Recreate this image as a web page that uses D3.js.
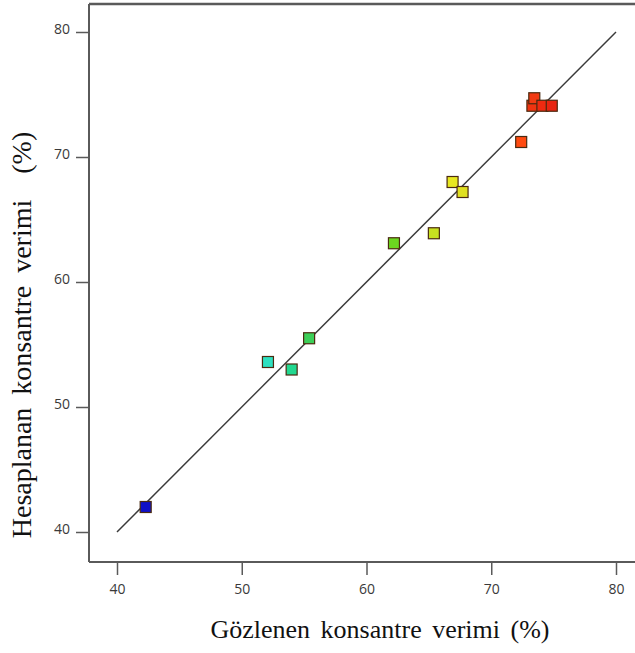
<!DOCTYPE html>
<html>
<head>
<meta charset="utf-8">
<script src="https://cdn.jsdelivr.net/npm/d3@7"></script>
<style>
  html, body { margin: 0; padding: 0; background: #fff; }
  svg { display: block; }
</style>
</head>
<body>
<svg id="chart" width="635" height="653"></svg>
<script>
// Observed vs. predicted concentrate yield (%)
const observed  = [42.3, 52.1, 54.0, 55.4, 62.2, 65.4, 66.9, 67.7, 72.4, 73.3, 73.45, 74.1, 74.85];
const predicted = [42.0, 53.6, 53.0, 55.5, 63.1, 63.9, 68.0, 67.2, 71.2, 74.1, 74.7, 74.1, 74.1];
const pointColors = ["#1010c8", "#2ee0c0", "#22d890", "#3ccf58", "#6cd820", "#c8e020",
                     "#e8e820", "#e0e020", "#ff4a10", "#f03410", "#f23a12", "#ee2a10", "#e82410"];
const xTicks = [40, 50, 60, 70, 80];
const yTicks = [40, 50, 60, 70, 80];
const xTitle = "Gözlenen konsantre verimi (%)";
const yTitle = "Hesaplanan konsantre verimi  (%)";

const svg = d3.select("#chart");

const x = d3.scaleLinear().domain([40, 80]).range([117, 616]);
const y = d3.scaleLinear().domain([40, 80]).range([532, 32]);

const axisLeftX = 89, axisBottomY = 562, topY = 4;
const axisColor = "#5a5a5a";

// frame: top border, left axis, bottom axis
svg.append("line").attr("x1", axisLeftX).attr("x2", 635).attr("y1", topY).attr("y2", topY)
  .attr("stroke", axisColor).attr("stroke-width", 2.5);

const xAxis = d3.axisBottom(x).tickValues(xTicks).tickSize(13).tickPadding(9).tickFormat(d3.format("d"));
const gx = svg.append("g").attr("transform", `translate(0,${axisBottomY})`).call(xAxis);
gx.select(".domain").remove();
gx.append("line").attr("x1", axisLeftX).attr("x2", 635).attr("stroke", axisColor).attr("stroke-width", 2);

const yAxis = d3.axisLeft(y).tickValues(yTicks).tickSize(13).tickPadding(6).tickFormat(d3.format("d"));
const gy = svg.append("g").attr("transform", `translate(${axisLeftX},0)`).call(yAxis);
gy.select(".domain").remove();
gy.append("line").attr("y1", topY).attr("y2", axisBottomY).attr("stroke", axisColor).attr("stroke-width", 2);

[gx, gy].forEach(g => {
  g.selectAll(".tick line").attr("stroke", axisColor).attr("stroke-width", 1.5);
  g.selectAll(".tick text").attr("fill", "#3a3a3a").attr("font-family", "'Open Sans', sans-serif")
    .attr("font-size", 14);
});
gy.selectAll(".tick text").attr("dy", "0.1em");

// reference line y = x
svg.append("line")
  .attr("x1", x(40)).attr("y1", y(40)).attr("x2", x(80)).attr("y2", y(80))
  .attr("stroke", "#3a3a3a").attr("stroke-width", 1.5);

// points
const sz = 11;
svg.append("g").selectAll("rect")
  .data(observed.map((o, i) => ({ o, p: predicted[i], c: pointColors[i] })))
  .join("rect")
  .attr("x", d => x(d.o) - sz / 2)
  .attr("y", d => y(d.p) - sz / 2)
  .attr("width", sz).attr("height", sz)
  .attr("fill", d => d.c)
  .attr("stroke", "#4a2a10").attr("stroke-width", 1.2);

// axis titles
svg.append("text")
  .attr("x", 380).attr("y", 638)
  .attr("text-anchor", "middle")
  .attr("font-family", "'Liberation Serif', 'Times New Roman', serif")
  .attr("font-size", 26).attr("fill", "#111")
  .style("word-spacing", "4px")
  .text(xTitle);

svg.append("text")
  .attr("transform", "translate(31,335) rotate(-90)")
  .attr("text-anchor", "middle")
  .attr("font-family", "'Liberation Serif', 'Times New Roman', serif")
  .attr("font-size", 28).attr("fill", "#111")
  .style("white-space", "pre")
  .style("word-spacing", "6px")
  .text(yTitle);
</script>
</body>
</html>
